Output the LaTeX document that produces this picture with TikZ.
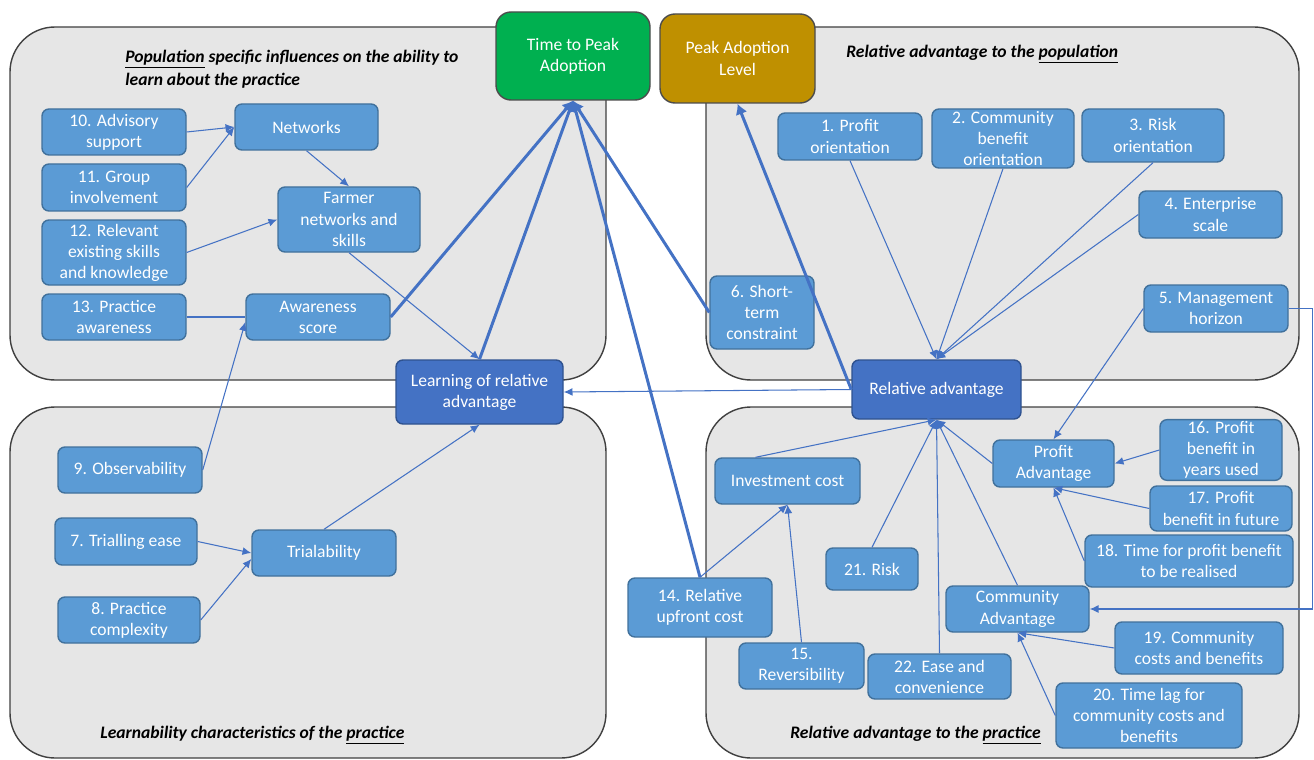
\documentclass[tikz,border=0pt]{standalone}
\usepackage{fontspec}
\setmainfont{Carlito}
\usetikzlibrary{arrows.meta}
\definecolor{boxfill}{HTML}{5B9BD5}
\definecolor{boxline}{HTML}{41719C}
\definecolor{keyfill}{HTML}{4472C4}
\definecolor{keyline}{HTML}{2F528F}
\definecolor{linkblue}{HTML}{4472C4}
\definecolor{tpagreen}{HTML}{00B050}
\definecolor{palgold}{HTML}{BF9000}
\definecolor{panelfill}{HTML}{E6E6E6}
\definecolor{panelline}{HTML}{404040}
\tikzset{
  panel/.style={draw=panelline, fill=panelfill, line width=0.8pt, rounded corners=0.9cm},
  factor/.style={draw=boxline, fill=boxfill, line width=0.8pt, rounded corners=0.14cm,
    text=white, align=center, inner sep=1pt, font=\fontsize{10}{12}\selectfont},
  keyfactor/.style={factor, draw=keyline, fill=keyfill},
  outcome/.style={factor, draw=black!70, rounded corners=0.3cm},
  sz/.style 2 args={minimum width=#1*0.02cm, minimum height=#2*0.02cm},
  heading/.style={font=\fontsize{10}{13}\selectfont\bfseries\itshape, align=left, inner sep=0pt},
  link/.style={draw=linkblue, line width=0.6pt, -{Latex[length=5pt,width=4.5pt]}},
  mainlink/.style={draw=linkblue, line width=1.7pt, -{Latex[length=6pt,width=7pt]}}
}
\begin{document}
\begin{tikzpicture}[x=0.02cm, y=-0.02cm]
  \useasboundingbox (0,0) rectangle (1314,760);
  \draw[panel] (10,27) rectangle (606,380); %population learning
  \draw[panel] (706,27) rectangle (1299,380); %population advantage
  \draw[panel] (10,407) rectangle (606,758); %learnability
  \draw[panel] (706,407) rectangle (1299,758); %practice advantage

  \node[heading, anchor=west] (hpop) at (125,69) {\underline{Population} specific influences on the ability to\\learn about the practice};
  \node[heading, anchor=west] (hrap) at (846,54) {Relative advantage to the \underline{population}};
  \node[heading, anchor=west] (hlrn) at (100,735) {Learnability characteristics of the \underline{practice}};
  \node[heading, anchor=west] (hrapr) at (790,735) {Relative advantage to the \underline{practice}};

  % outcomes
  \node[outcome, sz={154}{88}, fill=tpagreen] (tpa) at (573,56) {Time to Peak\\Adoption};
  \node[outcome, sz={155}{89}, fill=palgold] (pal) at (737.5,58.5) {Peak Adoption\\Level};

  % learning side
  \node[factor, sz={144}{46}] (n10) at (114,132) {10. Advisory\\support};
  \node[factor, sz={144}{47}] (n11) at (114,187.5) {11. Group\\involvement};
  \node[factor, sz={144}{65}] (n12) at (114,252.5) {12. Relevant\\existing skills\\and knowledge};
  \node[factor, sz={144}{46}] (n13) at (114,317) {13. Practice\\awareness};
  \node[factor, sz={143}{46}] (net) at (306.5,127) {Networks};
  \node[factor, sz={142}{65}] (fns) at (349,219.5) {Farmer\\networks and\\skills};
  \node[factor, sz={144}{46}] (aws) at (318,317) {Awareness\\score};
  \node[keyfactor, sz={167}{64}] (lra) at (479.5,392) {Learning of relative\\advantage};
  \node[factor, sz={144}{46}] (n9) at (130,470) {9. Observability};
  \node[factor, sz={142}{47}] (n7) at (126,541.5) {7. Trialling ease};
  \node[factor, sz={142}{46}] (n8) at (129,620) {8. Practice\\complexity};
  \node[factor, sz={144}{46}] (tri) at (324,553) {Trialability};

  % advantage side
  \node[factor, sz={144}{47}] (n1) at (850,136.5) {1. Profit\\orientation};
  \node[factor, sz={142}{59}] (n2) at (1003,138.5) {2. Community\\benefit\\orientation};
  \node[factor, sz={142}{53}] (n3) at (1153,135.5) {3. Risk\\orientation};
  \node[factor, sz={143}{47}] (n4) at (1210.5,214.5) {4. Enterprise\\scale};
  \node[factor, sz={144}{47}] (n5) at (1216,308.5) {5. Management\\horizon};
  \node[factor, sz={104}{73}] (n6) at (762,312.5) {6. Short-\\term\\constraint};
  \node[keyfactor, sz={169}{59}] (ra) at (936.5,389.5) {Relative advantage};
  \node[factor, sz={145}{46}] (inv) at (787.5,481) {Investment cost};
  \node[factor, sz={121}{47}] (pra) at (1053.5,463.5) {Profit\\Advantage};
  \node[factor, sz={122}{60}] (n16) at (1221,450) {16. Profit\\benefit in\\years used};
  \node[factor, sz={142}{45}] (n17) at (1221,508.5) {17. Profit\\benefit in future};
  \node[factor, sz={208}{52}] (n18) at (1189,561) {18. Time for profit benefit\\to be realised};
  \node[factor, sz={92}{42}] (n21) at (872,569) {21. Risk};
  \node[factor, sz={144}{59}] (n14) at (700,607.5) {14. Relative\\upfront cost};
  \node[factor, sz={143}{46}] (coa) at (1017.5,609) {Community\\Advantage};
  \node[factor, sz={168}{52}] (n19) at (1199,648) {19. Community\\costs and benefits};
  \node[factor, sz={125}{46}] (n15) at (801.5,666) {15.\\Reversibility};
  \node[factor, sz={143}{45}] (n22) at (939.5,676.5) {22. Ease and\\convenience};
  \node[factor, sz={186}{65}] (n20) at (1149,715.5) {20. Time lag for\\community costs and\\benefits};

  % learning links
  \draw[link] (n10.east) -- (net.west);
  \draw[link] (n11.east) -- (net.west);
  \draw[link] (net.south) -- (fns.north);
  \draw[link] (n12.east) -- (fns.west);
  \draw[draw=linkblue, line width=0.6pt] (n13.east) -- (aws.west);
  \draw[link] (n9.east) -- ([yshift=-0.1cm]aws.west);
  \draw[link] (fns.south) -- (lra.north);
  \draw[link] (tri.north) -- (lra.south);
  \draw[link] (n7.east) -- (tri.west);
  \draw[link] (n8.east) -- ([yshift=-0.12cm]tri.west);
  \draw[link] (ra.west) -- (lra.east);

  % advantage links
  \draw[link] (n1.south) -- (ra.north);
  \draw[link] (n2.south) -- (ra.north);
  \draw[link] (n3.south) -- (ra.north);
  \draw[link] (n4.west) -- (ra.north);
  \draw[link] (n5.west) -- (pra.north);
  \draw[link] (n5.east) -- ++(24,0) |- (coa.east);
  \draw[link] ([xshift=-0.64cm]inv.north) -- (ra.south);
  \draw[link] (n21.north) -- (ra.south);
  \draw[link] (n22.north) -- (ra.south);
  \draw[link] (coa.north) -- (ra.south);
  \draw[link] (pra.west) -- (ra.south);
  \draw[link] (n16.west) -- (pra.east);
  \draw[link] (n17.west) -- (pra.south);
  \draw[link] (n18.west) -- (pra.south);
  \draw[link] (n14.north) -- (inv.south);
  \draw[link] (n15.north) -- (inv.south);
  \draw[link] (n19.west) -- (coa.south);
  \draw[link] (n20.west) -- (coa.south);

  % main links
  \draw[mainlink] (aws.east) -- (tpa.south);
  \draw[mainlink] (lra.north) -- (tpa.south);
  \draw[mainlink] (n14.north) -- (tpa.south);
  \draw[mainlink] (n6.west) -- (tpa.south);
  \draw[mainlink] (ra.west) -- (pal.south);
\end{tikzpicture}
\end{document}
